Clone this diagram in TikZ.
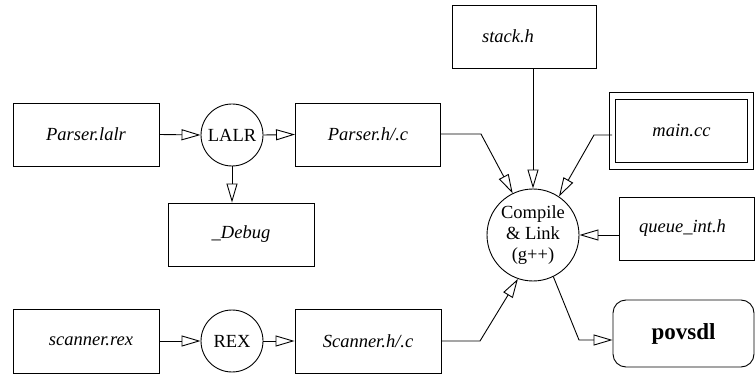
\documentclass[tikz,border=0pt]{standalone}
\usepackage{fontspec}
\setmainfont{Liberation Serif}
\usetikzlibrary{arrows.meta,calc}
\begin{document}
\begin{tikzpicture}[x=1pt,y=-1pt,
  every node/.style={font=\fontsize{18.5}{21}\selectfont},
  filebox/.style={draw,line width=0.9pt,minimum width=146pt,minimum height=63pt,inner sep=0pt,font=\fontsize{18.5}{21}\selectfont\itshape},
  tool/.style={draw,circle,line width=0.9pt,minimum size=62pt,inner sep=0pt},
  arr/.style={line width=0.9pt,-{Triangle[open,length=19pt,width=11pt]}}]
\useasboundingbox (0,0) rectangle (756,377);
% nodes
\node[filebox] (plalr) at (86,134.5) {Parser.lalr};
\node[tool] (lalr) at (232,135) {LALR};
\node[filebox,minimum width=145pt] (phc) at (368,134.5) {Parser.h/.c};
\node[filebox] (debug) at (241,234.5) {\_Debug};
\node[filebox,minimum height=64pt] (srex) at (86,341) {\kern10pt scanner.rex};
\node[tool] (rex) at (232,341) {REX};
\node[filebox,minimum height=64pt] (shc) at (368,341) {Scanner.h/.c};
\node[filebox,minimum width=144pt] (stack) at (524,36.5) {stack.h\kern32pt};
\node[filebox,double,double distance=5.5pt,minimum width=138pt,minimum height=70pt] (main) at (681.5,131) {main.cc};
\node[filebox,minimum width=135pt] (queue) at (686.5,228.5) {queue\_int.h\kern8pt};
\node[draw,line width=0.9pt,rounded corners=13pt,minimum width=141pt,minimum height=67pt,inner sep=0pt,font=\fontsize{23}{26}\selectfont\bfseries] (pov) at (683.5,333.5) {povsdl};
\node[tool,minimum size=92pt,align=center] (comp) at (533,235) {Compile\\\& Link\\(g++)};
% connectors
\draw[arr] (plalr.east) -- (lalr.west);
\draw[arr] (lalr.east) -- (phc.west);
\draw[arr] (lalr.south) -- (debug.north -| lalr.south);
\draw[arr] (srex.east) -- (rex.west);
\draw[arr] (rex.east) -- (shc.west);
\coordinate (kp) at (481,134);
\draw[arr] (phc.east |- kp) -- (kp) -- (comp.116);
\draw[arr] (stack.south -| comp.north) -- (comp.north);
\coordinate (km) at (594,135);
\draw[arr] (main.west |- km) -- (km) -- (comp.56);
\draw[arr] (queue.west |- comp.east) -- (comp.east);
\coordinate (ks) at (480,341);
\draw[arr] (shc.east) -- (ks) -- (comp.-109);
\coordinate (kv) at (579,340);
\draw[arr] (comp.-64) -- (kv) -- (kv -| pov.west);
\end{tikzpicture}
\end{document}
